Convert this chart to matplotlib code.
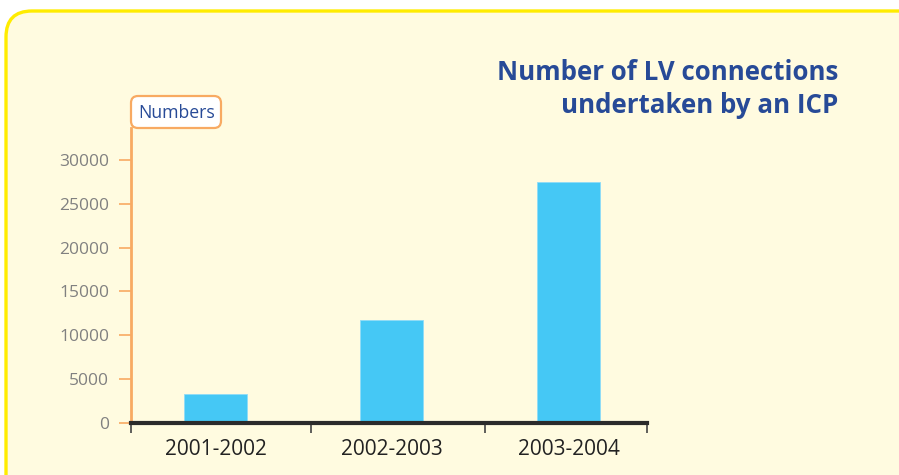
import matplotlib
matplotlib.use("Agg")
import matplotlib.pyplot as plt
from matplotlib.patches import FancyBboxPatch

plt.rcParams["font.family"] = ["Open Sans", "DejaVu Sans"]

periods = ["2001-2002", "2002-2003", "2003-2004"]
connections = [3280, 11730, 27490]
y_ticks = [0, 5000, 10000, 15000, 20000, 25000, 30000]
title = "Number of LV connections\nundertaken by an ICP"

W, H = 899, 475
fig = plt.figure(figsize=(W / 100, H / 100), dpi=100)
fig.patch.set_facecolor("white")

# pixel-space layer for the frame and the "Numbers" label box
bg = fig.add_axes([0, 0, 1, 1], zorder=0)
bg.set_xlim(0, W)
bg.set_ylim(H, 0)
bg.axis("off")
frame = FancyBboxPatch((6, 11), 960, 520, boxstyle="round,pad=0,rounding_size=26",
                       facecolor="#fffbe0", edgecolor="#ffec00", linewidth=2.4)
bg.add_patch(frame)
lab = FancyBboxPatch((131, 96), 90, 32, boxstyle="round,pad=0,rounding_size=7",
                     facecolor="white", edgecolor="#f8aa62", linewidth=1.6)
bg.add_patch(lab)
bg.text(177, 113, "Numbers", ha="center", va="center", fontsize=12.7, color="#274a97")
bg.text(838, 89, title, ha="right", va="center", fontsize=18.6, fontweight="bold",
        color="#274a97", linespacing=1.3)

# chart axes
x0, x1 = 131, 647
y0, y1 = 422.7, 128
ax = fig.add_axes([x0 / W, (H - y0) / H, (x1 - x0) / W, (y0 - y1) / H], zorder=1)
ax.patch.set_alpha(0)
ax.set_xlim(-0.479, 2.445)
ax.set_ylim(0, 30000 * (y0 - y1) / (y0 - 160))

ax.bar(range(len(periods)), connections, width=0.357, color="#45c8f5",
       edgecolor="#8fdcf8", linewidth=0.6, zorder=2)

for s in ["top", "right"]:
    ax.spines[s].set_visible(False)
ax.spines["left"].set_color("#f8aa62")
ax.spines["left"].set_linewidth(2)
ax.spines["bottom"].set_color("#2b2b2b")
ax.spines["bottom"].set_linewidth(3)
ax.spines["bottom"].set_zorder(3)

ax.set_yticks(y_ticks)
ax.set_yticklabels([str(v) for v in y_ticks])
ax.tick_params(axis="y", length=8.6, width=1.2, color="#f8aa62", labelcolor="#808080",
               labelsize=12.5, pad=7)

ax.set_xticks(range(len(periods)))
ax.set_xticklabels(periods)
ax.tick_params(axis="x", which="major", length=0, labelsize=15, labelcolor="#222222", pad=12)
ax.set_xticks([-0.479, 0.54, 1.527, 2.445], minor=True)
ax.tick_params(axis="x", which="minor", length=7, width=1.2, color="#444444")

fig.savefig("out.png", dpi=100)
